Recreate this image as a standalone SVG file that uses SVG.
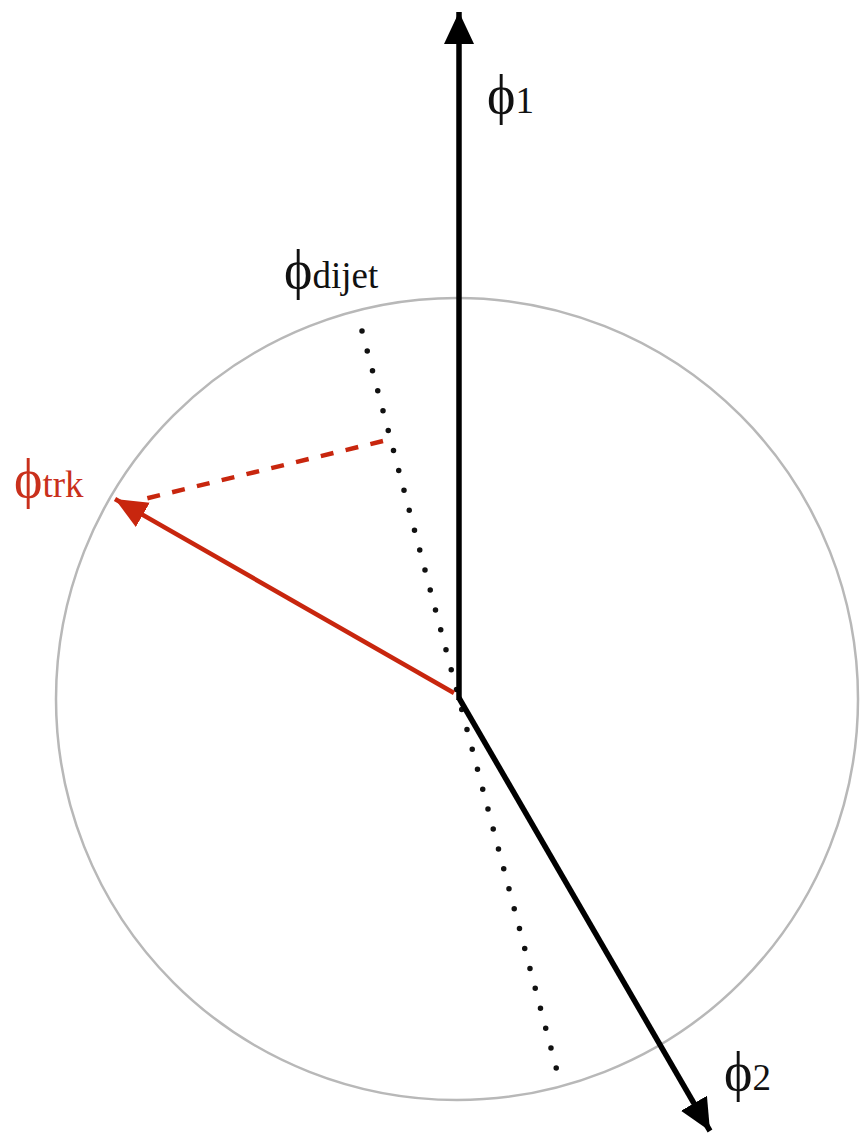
<svg xmlns="http://www.w3.org/2000/svg" width="861" height="1134" viewBox="0 0 861 1134">
<style>
.lbl{font-family:"Liberation Serif","Times New Roman",serif;fill:#111}
.phi{font-size:54px}
.sub{font-size:37px}
.red{fill:#c9301c}
</style>
<defs>
<marker id="ahBlack" markerUnits="userSpaceOnUse" markerWidth="36" markerHeight="32" refX="32" refY="15" orient="auto">
<path d="M0,0 L32,15 L0,30 Z" fill="#000"/>
</marker>
<marker id="ahRed" markerUnits="userSpaceOnUse" markerWidth="36" markerHeight="30" refX="32" refY="14" orient="auto">
<path d="M0,0 L32,14 L0,28 Z" fill="#c8260e"/>
</marker>
</defs>
<rect width="861" height="1134" fill="#fff"/>
<circle id="circle" cx="457" cy="699" r="401" fill="none" stroke="#b8b8b8" stroke-width="2.5"/>
<g id="connectors">
<line x1="362" y1="331" x2="557" y2="1071" stroke="#111" stroke-width="5.5" stroke-linecap="round" stroke-dasharray="0 20.6"/>
<line x1="383" y1="441" x2="140" y2="500" stroke="#c8260e" stroke-width="4.5" stroke-dasharray="13 12.5"/>
<line x1="459" y1="700" x2="459" y2="12" stroke="#000" stroke-width="5.5" marker-end="url(#ahBlack)"/>
<line x1="459" y1="698" x2="710" y2="1131" stroke="#000" stroke-width="5.5" marker-end="url(#ahBlack)"/>
<line x1="454" y1="693" x2="115" y2="499" stroke="#c8260e" stroke-width="4.5" marker-end="url(#ahRed)"/>
</g>
<g id="phi1"><text class="lbl" x="487" y="113"><tspan class="phi">ϕ</tspan><tspan class="sub">1</tspan></text></g>
<g id="phidijet"><text class="lbl" x="284" y="288"><tspan class="phi">ϕ</tspan><tspan class="sub">dijet</tspan></text></g>
<g id="phitrk"><text class="lbl red" x="14" y="497"><tspan class="phi">ϕ</tspan><tspan class="sub">trk</tspan></text></g>
<g id="phi2"><text class="lbl" x="724" y="1090"><tspan class="phi">ϕ</tspan><tspan class="sub">2</tspan></text></g>
</svg>
